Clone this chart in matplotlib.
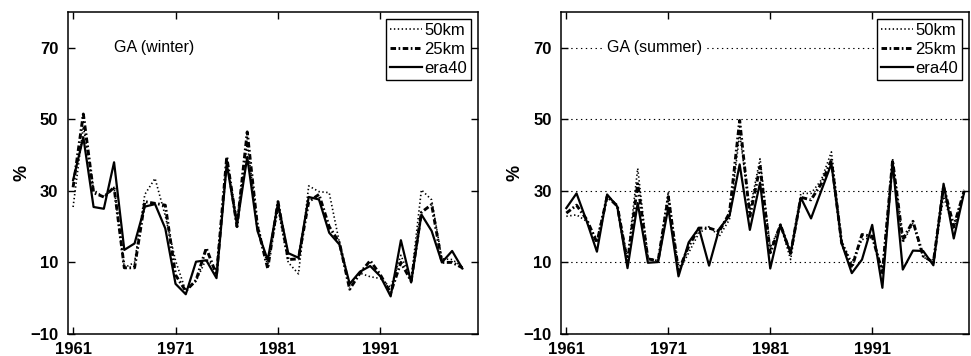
import numpy as np
import matplotlib
matplotlib.use('Agg')
import matplotlib.pyplot as plt

plt.rcParams['font.family'] = ['Liberation Sans', 'DejaVu Sans']
plt.rcParams['lines.scale_dashes'] = False

# winter: 1961-1999, summer: 1961-2000
years_w = np.arange(1961, 2000)
years_s = np.arange(1961, 2001)

km50_w = [25.5, 48, 30.3, 28.2, 31, 8.5, 10, 29, 33.5, 23,
          10.5, 2, 4.8, 11, 8, 38, 22, 43, 21, 9,
          25, 10, 6.8, 31.4, 29.8, 29.5, 15.5, 4, 7, 6,
          5.5, 3, 12, 5, 30.3, 27.5, 11, 10.8, 8.8]
km25_w = [31, 51.5, 29.5, 28.3, 31, 8.5, 8.5, 27, 26.5, 26,
          6.5, 2, 5, 14, 6.5, 39.5, 20, 46.5, 20, 8.3,
          27, 10.8, 11, 27, 29, 20, 15.5, 2.5, 7, 10.5,
          6.5, 1.5, 10, 4.8, 24, 26.2, 10, 10, 8.5]
era40_w = [33, 45, 25.5, 25, 38, 13.5, 15.3, 25.6, 26.3, 19.5,
           4, 1.1, 10.2, 10.6, 5.6, 37.5, 20.5, 39.5, 18.8, 10.7,
           26.5, 12.6, 11.3, 28.3, 27.6, 18.3, 15, 4, 7.4, 9,
           6.1, 0.5, 16.2, 4.4, 23.4, 18.8, 10, 13.2, 8.3]

km50_s = [22.9, 23.3, 21.5, 16.4, 28.8, 26, 11, 36.3, 11.3, 10.4,
          29.8, 7.2, 12.7, 18.2, 20, 17.3, 22, 46, 24.7, 39,
          14, 20.5, 10.8, 29.3, 29.3, 33, 40.9, 16, 9.9, 16.4,
          17, 8, 39, 15.5, 21, 11.3, 10.8, 28.4, 19.2, 30.3]
km25_s = [23.8, 26, 22, 15.5, 28.4, 25.8, 10, 32, 11, 10.4,
          28.4, 7.6, 14.5, 19.6, 19.6, 18.7, 23.8, 49.7, 22.9, 36.8,
          12.7, 20.5, 12.5, 28.2, 27.5, 32, 38.6, 15.5, 8.5, 17.8,
          17.3, 7.1, 38.5, 16.4, 21.5, 11.8, 10, 31.2, 20.1, 29.8]
era40_s = [25.2, 29.3, 21.5, 13, 29, 25.6, 8.4, 26.6, 9.9, 10.1,
           25.3, 6.1, 15.6, 19.6, 9.1, 19.4, 23, 37.4, 19.1, 32.3,
           8.3, 20.5, 12.6, 28.1, 22.3, 30, 37.6, 15.4, 7, 10.8,
           20.5, 2.9, 38.3, 8, 13.3, 13.2, 9.2, 32, 16.7, 29.4]

xticks = [1961, 1971, 1981, 1991]
yticks = [-10, 10, 30, 50, 70]


def draw_panel(ax, years, km50, km25, era40, title, grid=False):
    if grid:
        ax.yaxis.grid(True, color='k', linestyle=(0, (1, 2.5)), linewidth=0.8)
        ax.set_axisbelow(True)
    ax.plot(years, km50, color='k', linestyle=(0, (1, 1.8)), lw=1.2, label='50km')
    ax.plot(years, km25, color='k', linestyle=(0, (4, 1.8, 1.2, 1.8)), lw=2.1, label='25km')
    ax.plot(years, era40, color='k', linestyle='-', lw=1.6, label='era40')
    ax.set_xlim(1960.5, 2000.5)
    ax.set_ylim(-10, 80)
    ax.set_xticks(xticks)
    ax.set_yticks(yticks)
    ax.tick_params(direction='in', top=True, right=True, length=5, width=1,
                   labelsize=12)
    ax.tick_params(axis='x', pad=6)
    ax.tick_params(axis='y', pad=7)
    for lbl in ax.get_xticklabels() + ax.get_yticklabels():
        lbl.set_fontweight('bold')
    for sp in ax.spines.values():
        sp.set_linewidth(1.1)
    ax.set_ylabel('%', fontsize=13, fontweight='bold', labelpad=0)
    ax.text(1965, 70, title, fontsize=11.5, va='center', ha='left',
            bbox=dict(facecolor='white', edgecolor='none', pad=2.5))
    leg = ax.legend(loc='upper right', fontsize=12, fancybox=False,
                    edgecolor='k', framealpha=1, handlelength=1.9,
                    handletextpad=0.15, borderpad=0.25, labelspacing=0.25,
                    borderaxespad=0.4)
    leg.get_frame().set_linewidth(1.0)


fig = plt.figure(figsize=(9.71, 3.56), dpi=100)
ax1 = fig.add_axes([0.070, 0.062, 0.422, 0.904])
ax2 = fig.add_axes([0.578, 0.062, 0.420, 0.904])

draw_panel(ax1, years_w, km50_w, km25_w, era40_w, 'GA (winter)')
draw_panel(ax2, years_s, km50_s, km25_s, era40_s, 'GA (summer)', grid=True)

fig.savefig('out.png', dpi=100)
